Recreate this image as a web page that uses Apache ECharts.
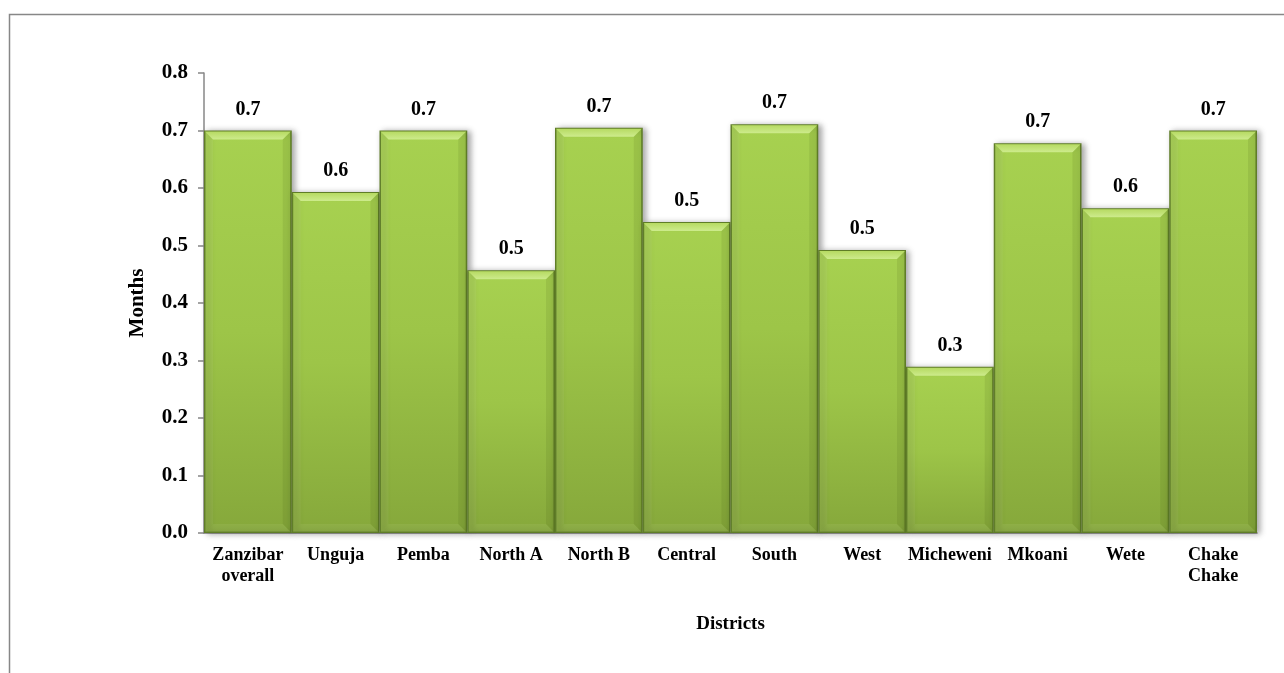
<!DOCTYPE html>
<html>
<head>
<meta charset="utf-8">
<title>Months by district</title>
<script src="https://cdn.jsdelivr.net/npm/echarts@6/dist/echarts.min.js"></script>
<style>
  html, body { margin: 0; padding: 0; background: #ffffff; }
  #chart { width: 1284px; height: 673px; }
</style>
</head>
<body>
<div id="chart"></div>
<script>
// Districts along the category axis
const districts = ['Zanzibar\noverall', 'Unguja', 'Pemba', 'North A', 'North B', 'Central',
                   'South', 'West', 'Micheweni', 'Mkoani', 'Wete', 'Chake\nChake'];
// Mean duration in months for each district
const months = [0.700, 0.593, 0.700, 0.457, 0.705, 0.541, 0.711, 0.492, 0.289, 0.678, 0.565, 0.700];
// Value axis range
const yMin = 0.0;
const yMax = 0.8;
const yStep = 0.1;

const FONT = '"Liberation Serif", "Times New Roman", serif';
const AXIS_GREY = '#878787';

const chart = echarts.init(document.getElementById('chart'), null, { renderer: 'canvas' });

// bevel overlay drawn on top of each bar, positioned by the axis scales
function bevelItem(params, api) {
  const idx = api.value(0);
  const val = api.value(1);
  const top = api.coord([idx, val]);
  const base = api.coord([idx, 0]);
  const w = api.size([1, 0])[0];
  const x0 = top[0] - w / 2 + 1;
  const x1 = top[0] + w / 2 - 1;
  const yT = top[1] + 1;
  const yB = base[1] - 1;
  const b = 8;
  return {
    type: 'group',
    children: [
      {
        type: 'polygon',
        shape: { points: [[x0, yT], [x1, yT], [x1 - b, yT + b], [x0 + b, yT + b]] },
        style: {
          fill: new echarts.graphic.LinearGradient(0, 0, 0, 1, [
            { offset: 0, color: '#b6da62' },
            { offset: 1, color: '#cdeb8c' }
          ])
        }
      },
      {
        type: 'polygon',
        shape: { points: [[x0, yT], [x0 + b, yT + b], [x0 + b, yB - b], [x0, yB]] },
        style: { fill: 'rgba(255,255,255,0.05)' }
      },
      {
        type: 'polygon',
        shape: { points: [[x1, yT], [x1 - b, yT + b], [x1 - b, yB - b], [x1, yB]] },
        style: { fill: 'rgba(50,70,10,0.10)' }
      },
      {
        type: 'polygon',
        shape: { points: [[x0, yB], [x0 + b, yB - b], [x1 - b, yB - b], [x1, yB]] },
        style: { fill: 'rgba(255,255,255,0.06)' }
      }
    ]
  };
}

const option = {
  backgroundColor: '#ffffff',
  animation: false,
  graphic: [
    {
      type: 'rect',
      left: 7, top: 12,
      shape: { width: 1400, height: 800 },
      style: { fill: 'none', stroke: AXIS_GREY, lineWidth: 1.5 },
      silent: true,
      z: -1
    }
  ],
  grid: { left: 204, right: 27, top: 73, bottom: 140, containLabel: false },
  xAxis: {
    type: 'category',
    data: districts,
    name: 'Districts',
    nameLocation: 'middle',
    nameGap: 82,
    nameTextStyle: { fontFamily: FONT, fontWeight: 'bold', fontSize: 19, color: '#000' },
    axisLine: { lineStyle: { color: AXIS_GREY, width: 1.5 } },
    axisTick: { show: false },
    axisLabel: {
      interval: 0,
      margin: 12,
      fontFamily: FONT, fontWeight: 'bold', fontSize: 18, color: '#000',
      lineHeight: 21
    }
  },
  yAxis: {
    type: 'value',
    min: yMin, max: yMax, interval: yStep,
    name: 'Months',
    nameLocation: 'middle',
    nameGap: 56,
    nameRotate: 90,
    nameTextStyle: { fontFamily: FONT, fontWeight: 'bold', fontSize: 21, color: '#000' },
    splitLine: { show: false },
    axisLine: { show: true, lineStyle: { color: AXIS_GREY, width: 1.5 } },
    axisTick: { show: true, length: 6, lineStyle: { color: AXIS_GREY, width: 1.5 } },
    axisLabel: {
      margin: 16,
      fontFamily: FONT, fontWeight: 'bold', fontSize: 21, color: '#000',
      formatter: v => v.toFixed(1)
    }
  },
  series: [
    {
      type: 'bar',
      data: months,
      barCategoryGap: '0%',
      itemStyle: {
        color: new echarts.graphic.LinearGradient(0, 0, 0, 1, [
          { offset: 0, color: '#a7d150' },
          { offset: 0.5, color: '#9dc548' },
          { offset: 1, color: '#86a83b' }
        ]),
        borderColor: '#5f7d27',
        borderWidth: 1.5,
        shadowColor: 'rgba(0,0,0,0.35)',
        shadowBlur: 6,
        shadowOffsetX: 3,
        shadowOffsetY: 1
      },
      label: {
        show: true,
        position: 'top',
        distance: 11,
        fontFamily: FONT, fontWeight: 'bold', fontSize: 20, color: '#000',
        formatter: p => p.value.toFixed(1)
      },
      z: 2
    },
    {
      type: 'custom',
      data: months.map((v, i) => [i, v]),
      renderItem: bevelItem,
      silent: true,
      z: 3
    }
  ]
};

chart.setOption(option);
</script>
</body>
</html>
